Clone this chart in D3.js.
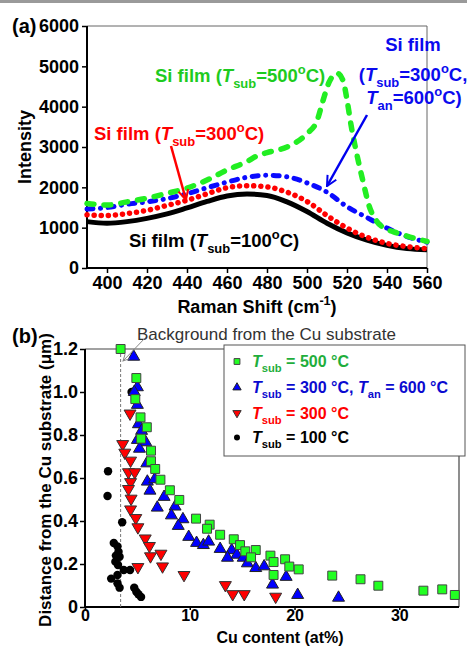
<!DOCTYPE html>
<html>
<head>
<meta charset="utf-8">
<script src="https://cdn.jsdelivr.net/npm/d3@7"></script>
<style>
  body { margin: 0; background: #fff; }
  svg { display: block; font-family: Arial, "Liberation Sans", sans-serif; font-weight: bold; }
</style>
</head>
<body>
<svg id="chart" width="467" height="646"></svg>
<script>
// ---- panel (a) data: Raman spectra ----
var shift = [390,400,410,420,430,440,450,460,470,480,490,500,510,520,530,540,550,560];
var sub100 = [1150,1110,1150,1230,1340,1490,1650,1785,1835,1800,1640,1400,1110,870,690,560,480,450];
var sub300 = [1320,1300,1350,1430,1550,1680,1840,1990,2040,2010,1880,1650,1300,990,760,610,530,480];
var sub300an600 = [1460,1500,1580,1640,1720,1840,1990,2130,2250,2300,2260,2110,1880,1520,1250,990,780,640];
var greenShift = [390,400,410,420,430,440,450,460,470,475,480,490,500,505,508,511,515,518,520,522,525,528,531,535,540,545,550,555,560];
var sub500 = [1600,1560,1640,1730,1850,1980,2180,2430,2640,2780,2860,3000,3330,3650,4150,4600,4830,4650,4170,3550,2800,2150,1550,1150,960,870,790,720,660];

var ramanTicks = [400,420,440,460,480,500,520,540,560];
var intensityTicks = [0,1000,2000,3000,4000,5000,6000];

// ---- panel (b) data: [Cu content (at%), distance (um)] ----
var pts500 = [[3.4,1.2],[4.9,1.065],[4.8,0.967],[5.3,0.882],[5.9,0.836],[5.35,0.783],[6.3,0.727],[6.3,0.678],[6.7,0.642],[7.2,0.592],[8.1,0.543],[9.0,0.498],[10.6,0.411],[11.9,0.383],[11.65,0.364],[12.9,0.336],[14.2,0.315],[14.8,0.288],[15.3,0.259],[16.3,0.265],[15.85,0.231],[17.7,0.239],[18.0,0.209],[19.1,0.222],[19.5,0.188],[20.4,0.175],[18.0,0.149],[23.6,0.146],[26.3,0.129],[28.0,0.099],[32.3,0.076],[34.1,0.082],[35.3,0.056]];
var pts300an = [[4.65,1.164],[5.0,1.022],[4.7,1.0],[5.0,0.94],[5.1,0.85],[5.4,0.819],[5.0,0.777],[5.8,0.766],[5.2,0.736],[5.9,0.668],[5.95,0.583],[6.65,0.594],[6.2,0.541],[7.55,0.512],[6.9,0.462],[8.6,0.467],[8.25,0.426],[9.35,0.408],[8.9,0.377],[9.9,0.326],[10.65,0.298],[11.3,0.288],[11.8,0.304],[12.9,0.27],[14.0,0.264],[13.6,0.229],[14.5,0.243],[15.1,0.229],[15.5,0.203],[16.3,0.181],[17.1,0.189],[19.2,0.14],[17.9,0.104],[20.3,0.056],[24.2,0.043]];
var pts300 = [[4.3,0.9],[3.6,0.758],[3.8,0.718],[4.35,0.681],[4.15,0.627],[4.75,0.627],[4.35,0.581],[4.15,0.549],[4.4,0.504],[4.35,0.454],[4.85,0.414],[5.05,0.371],[5.75,0.319],[6.15,0.284],[6.25,0.236],[7.25,0.248],[7.4,0.189],[5.05,0.186],[9.45,0.149],[13.4,0.102],[14.1,0.06],[15.2,0.06],[18.2,0.048]];
var pts100 = [[4.45,1.0],[2.2,0.631],[2.15,0.516],[3.55,0.394],[2.75,0.298],[3.1,0.282],[3.2,0.257],[2.95,0.239],[3.3,0.234],[2.9,0.211],[3.15,0.195],[3.7,0.172],[4.3,0.172],[3.1,0.149],[2.5,0.132],[3.1,0.11],[3.3,0.09],[4.7,0.09],[4.9,0.071],[5.1,0.059],[5.35,0.047]];
var cuBackground = 3.4;

var cuTicks = [0,10,20,30];
var distTicks = [0,0.2,0.4,0.6,0.8,1.0,1.2];

var svg = d3.select('#chart');

// thin grey band at the very top
svg.append('rect').attr('x', 0).attr('y', 0).attr('width', 467).attr('height', 3).attr('fill', '#9a9a9a');

var defs = svg.append('defs');
function arrowMarker(id, color){
  defs.append('marker')
    .attr('id', id).attr('viewBox', '0 0 10 10').attr('refX', 9).attr('refY', 5)
    .attr('markerWidth', 5).attr('markerHeight', 5).attr('orient', 'auto')
    .append('path').attr('d', 'M1,1 L9,5 L1,9').attr('fill', 'none')
    .attr('stroke', color).attr('stroke-width', 1.6);
}
arrowMarker('arRed', '#ff0000');
arrowMarker('arBlue', '#0000ee');
defs.append('marker')
  .attr('id', 'arGrey').attr('viewBox', '0 0 10 10').attr('refX', 9).attr('refY', 5)
  .attr('markerWidth', 8).attr('markerHeight', 8).attr('orient', 'auto')
  .append('path').attr('d', 'M1,1 L9,5 L1,9').attr('fill', 'none')
  .attr('stroke', '#888').attr('stroke-width', 1.2);

// text with italic / sub / sup pieces
function richText(g, x, y, parts, size, fill, anchor, weight){
  var t = g.append('text').attr('x', x).attr('y', y)
    .attr('text-anchor', anchor || 'start').attr('fill', fill)
    .style('font-size', size + 'px').style('font-weight', weight || 'bold');
  var cur = 0;
  parts.forEach(function(p){
    if (typeof p === 'string') p = {t: p};
    var target = p.sub ? size * 0.3 : (p.sup ? -size * 0.42 : 0);
    var ts = t.append('tspan').text(p.t).attr('dy', target - cur);
    cur = target;
    if (p.it) ts.style('font-style', 'italic');
    if (p.sub || p.sup) ts.style('font-size', (size * 0.7) + 'px');
  });
  return t;
}

function styleAxis(g, size){
  g.select('.domain').remove();
  g.selectAll('.tick line').attr('stroke', '#000').attr('stroke-width', 1.5);
  g.selectAll('.tick text').attr('fill', '#000').style('font-size', size + 'px').style('font-weight', 'bold');
}

// ================= panel (a) =================
var xA = d3.scaleLinear().domain([390, 560]).range([87, 427]);
var yA = d3.scaleLinear().domain([0, 6000]).range([268, 26]);
var gA = svg.append('g');

// frame
gA.append('line').attr('x1', xA(390)).attr('x2', xA(560)).attr('y1', yA(6000)).attr('y2', yA(6000)).attr('stroke', '#666').attr('stroke-width', 1);
gA.append('line').attr('x1', xA(560)).attr('x2', xA(560)).attr('y1', yA(6000)).attr('y2', yA(0)).attr('stroke', '#666').attr('stroke-width', 1);

var axAy = gA.append('g').attr('transform', 'translate(' + xA(390) + ',0)')
  .call(d3.axisLeft(yA).tickValues(intensityTicks).tickSize(5).tickPadding(3).tickFormat(d3.format('d')));
styleAxis(axAy, 18);
var axAx = gA.append('g').attr('transform', 'translate(0,' + yA(0) + ')')
  .call(d3.axisBottom(xA).tickValues(ramanTicks).tickSize(5).tickPadding(3).tickFormat(d3.format('d')));
styleAxis(axAx, 18);
gA.append('line').attr('x1', xA(390)).attr('x2', xA(390)).attr('y1', yA(6000)).attr('y2', yA(0)).attr('stroke', '#000').attr('stroke-width', 2);
gA.append('line').attr('x1', xA(390)).attr('x2', xA(560)).attr('y1', yA(0)).attr('y2', yA(0)).attr('stroke', '#000').attr('stroke-width', 2);

var lineA = d3.line().x(function(d){ return xA(d[0]); }).y(function(d){ return yA(d[1]); }).curve(d3.curveMonotoneX);
function zip(xs, ys){ return xs.map(function(x, i){ return [x, ys[i]]; }); }

gA.append('path').attr('d', lineA(zip(shift, sub100))).attr('fill', 'none')
  .attr('stroke', '#000').attr('stroke-width', 5);
gA.append('path').attr('d', lineA(zip(shift, sub300))).attr('fill', 'none')
  .attr('stroke', '#ff0000').attr('stroke-width', 5.5).attr('stroke-linecap', 'round').attr('stroke-dasharray', '0.1 7');
gA.append('path').attr('d', lineA(zip(shift, sub300an600))).attr('fill', 'none')
  .attr('stroke', '#0a0aff').attr('stroke-width', 5).attr('stroke-linecap', 'round').attr('stroke-dasharray', '6 7.5 0.1 7.5');
gA.append('path').attr('d', lineA(zip(greenShift, sub500))).attr('fill', 'none')
  .attr('stroke', '#22ee22').attr('stroke-width', 5.5).attr('stroke-linecap', 'round').attr('stroke-dasharray', '7 10');

// annotations
richText(gA, 155, 82, ['Si film (', {t: 'T', it: true}, {t: 'sub', sub: true}, '=500', {t: 'o', sup: true}, 'C)'], 18.5, '#1ecb1e');
richText(gA, 94, 140, ['Si film (', {t: 'T', it: true}, {t: 'sub', sub: true}, '=300', {t: 'o', sup: true}, 'C)'], 18.5, '#ff0000');
richText(gA, 129, 247, ['Si film (', {t: 'T', it: true}, {t: 'sub', sub: true}, '=100', {t: 'o', sup: true}, 'C)'], 18.5, '#000');
richText(gA, 413, 51, ['Si film'], 18.5, '#0a0aee', 'middle');
richText(gA, 413, 81, ['(', {t: 'T', it: true}, {t: 'sub', sub: true}, '=300', {t: 'o', sup: true}, 'C,'], 18.5, '#0a0aee', 'middle');
richText(gA, 414, 104, [{t: 'T', it: true}, {t: 'an', sub: true}, '=600', {t: 'o', sup: true}, 'C)'], 18.5, '#0a0aee', 'middle');

gA.append('line').attr('x1', 171).attr('y1', 146).attr('x2', 186).attr('y2', 200)
  .attr('stroke', '#ff0000').attr('stroke-width', 2.5).attr('marker-end', 'url(#arRed)');
gA.append('line').attr('x1', 367).attr('y1', 115).attr('x2', 327).attr('y2', 186)
  .attr('stroke', '#0000ee').attr('stroke-width', 2.5).attr('marker-end', 'url(#arBlue)');

richText(gA, 12, 33, ['(a)'], 20, '#000');
gA.append('text').attr('transform', 'translate(31,147) rotate(-90)').attr('text-anchor', 'middle')
  .style('font-size', '18px').text('Intensity');
richText(gA, 257, 313, ['Raman Shift (cm', {t: '-1', sup: true}, ')'], 18, '#000', 'middle');

// ================= panel (b) =================
var xB = d3.scaleLinear().domain([0, 35.7]).range([85, 459]);
var yB = d3.scaleLinear().domain([0, 1.2]).range([607, 349]);
var gB = svg.append('g');

gB.append('line').attr('x1', xB(0)).attr('x2', xB(35.7)).attr('y1', yB(1.2)).attr('y2', yB(1.2)).attr('stroke', '#444').attr('stroke-width', 1.2);
gB.append('line').attr('x1', xB(35.7)).attr('x2', xB(35.7)).attr('y1', yB(1.2)).attr('y2', yB(0)).attr('stroke', '#444').attr('stroke-width', 1.2);

var axBy = gB.append('g').attr('transform', 'translate(' + xB(0) + ',0)')
  .call(d3.axisLeft(yB).tickValues(distTicks).tickSize(5).tickPadding(2)
    .tickFormat(function(d){ return d === 0 ? '0' : d3.format('.1f')(d); }));
styleAxis(axBy, 18);
var axBx = gB.append('g').attr('transform', 'translate(0,' + yB(0) + ')')
  .call(d3.axisBottom(xB).tickValues(cuTicks).tickSize(3).tickPadding(0).tickFormat(d3.format('d')));
styleAxis(axBx, 16);
gB.append('line').attr('x1', xB(0)).attr('x2', xB(0)).attr('y1', yB(1.2)).attr('y2', yB(0)).attr('stroke', '#000').attr('stroke-width', 2);
gB.append('line').attr('x1', xB(0)).attr('x2', xB(35.7)).attr('y1', yB(0)).attr('y2', yB(0)).attr('stroke', '#000').attr('stroke-width', 2);

// background line
gB.append('line').attr('x1', xB(cuBackground)).attr('x2', xB(cuBackground)).attr('y1', yB(1.2)).attr('y2', yB(0))
  .attr('stroke', '#777').attr('stroke-width', 1).attr('stroke-dasharray', '3 2');

var sq = d3.symbol().type(d3.symbolSquare).size(80);
var tri = d3.symbol().type(d3.symbolTriangle).size(62);
var circ = d3.symbol().type(d3.symbolCircle).size(56);

function plotPts(data, sym, fill, stroke, flip){
  gB.append('g').selectAll('path').data(data).enter().append('path')
    .attr('d', sym)
    .attr('transform', function(d){ return 'translate(' + xB(d[0]) + ',' + yB(d[1]) + ')' + (flip ? ' rotate(180)' : ''); })
    .attr('fill', fill).attr('stroke', stroke).attr('stroke-width', stroke === 'none' ? 0 : 1);
}
plotPts(pts100, circ, '#000', 'none');
plotPts(pts300, tri, '#ff0000', '#333', true);
plotPts(pts300an, tri, '#0000ff', '#222');
plotPts(pts500, sq, '#22ff22', '#444');

// background annotation
richText(gB, 137, 340, ['Background from the Cu substrate'], 17, '#333', 'start', 'normal');
gB.append('line').attr('x1', 146).attr('y1', 337).attr('x2', 123).attr('y2', 361)
  .attr('stroke', '#888').attr('stroke-width', 1).attr('marker-end', 'url(#arGrey)');

// legend
var leg = gB.append('g');
leg.append('rect').attr('x', 224).attr('y', 345).attr('width', 241).attr('height', 111)
  .attr('fill', '#fff').attr('stroke', '#555').attr('stroke-width', 1);
var legSq = d3.symbol().type(d3.symbolSquare).size(34);
var legTri = d3.symbol().type(d3.symbolTriangle).size(30);
var legCirc = d3.symbol().type(d3.symbolCircle).size(28);
leg.append('path').attr('d', legSq).attr('transform', 'translate(237,361.5)').attr('fill', '#22ff22').attr('stroke', '#444').attr('stroke-width', 1);
leg.append('path').attr('d', legTri).attr('transform', 'translate(237,387.5)').attr('fill', '#0000ff').attr('stroke', '#222').attr('stroke-width', 1);
leg.append('path').attr('d', legTri).attr('transform', 'translate(237,413) rotate(180)').attr('fill', '#ff0000').attr('stroke', '#333').attr('stroke-width', 1);
leg.append('path').attr('d', legCirc).attr('transform', 'translate(237,437.5)').attr('fill', '#000');
richText(leg, 252, 367, [{t: 'T', it: true}, {t: 'sub', sub: true}, ' = 500 \u00b0C'], 16, '#1fae3c');
richText(leg, 252, 393, [{t: 'T', it: true}, {t: 'sub', sub: true}, ' = 300 \u00b0C, ', {t: 'T', it: true}, {t: 'an', sub: true}, ' = 600 \u00b0C'], 16, '#0a0ad0');
richText(leg, 252, 419, [{t: 'T', it: true}, {t: 'sub', sub: true}, ' = 300 \u00b0C'], 16, '#ff0000');
richText(leg, 252, 443, [{t: 'T', it: true}, {t: 'sub', sub: true}, ' = 100 \u00b0C'], 16, '#000');

richText(gB, 12, 343, ['(b)'], 20, '#000');
gB.append('text').attr('transform', 'translate(51,480) rotate(-90)').attr('text-anchor', 'middle')
  .style('font-size', '17px').text('Distance from the Cu substrate (\u03bcm)');
gB.append('text').attr('x', 280).attr('y', 642.5).attr('text-anchor', 'middle')
  .style('font-size', '16px').text('Cu content (at%)');
</script>
</body>
</html>
